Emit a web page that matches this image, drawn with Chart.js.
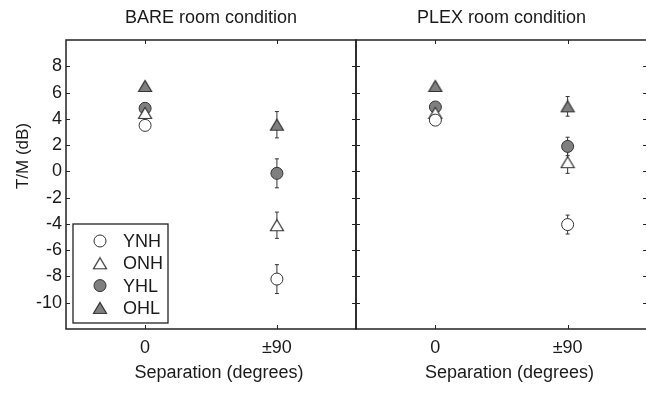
<!DOCTYPE html>
<html>
<head>
<meta charset="utf-8">
<script src="https://cdn.jsdelivr.net/npm/chart.js@4/dist/chart.umd.min.js"></script>
<style>
  html, body { margin: 0; padding: 0; background: #fff; }
  #wrap { position: relative; width: 646px; height: 396px; overflow: hidden; }
  #bare { position: absolute; left: 0; top: 0; }
  #plex { position: absolute; left: 355px; top: 0; }
</style>
</head>
<body>
<div id="wrap">
  <canvas id="bare" width="357" height="396"></canvas>
  <canvas id="plex" width="292" height="396"></canvas>
</div>
<script>
// categories on the x axis (placed at 1 and 2)
const categories = ['0', '\u00b190'];
const xPositions = [1, 2];
const yTicks = [-10, -8, -6, -4, -2, 0, 2, 4, 6, 8];
const groups = ['YNH', 'ONH', 'YHL', 'OHL'];

// BARE room condition: mean and error per separation
const bareYNH = [3.5, -8.2];
const bareYNHErr = [0.2, 1.1];
const bareONH = [4.45, -4.1];
const bareONHErr = [0.2, 1.0];
const bareYHL = [4.8, -0.15];
const bareYHLErr = [0.2, 1.1];
const bareOHL = [6.5, 3.55];
const bareOHLErr = [0.2, 1.0];

// PLEX room condition
const plexYNH = [3.9, -4.05];
const plexYNHErr = [0.2, 0.72];
const plexONH = [4.45, 0.7];
const plexONHErr = [0.2, 0.85];
const plexYHL = [4.9, 1.9];
const plexYHLErr = [0.2, 0.7];
const plexOHL = [6.5, 4.95];
const plexOHLErr = [0.2, 0.75];

const FONT = "'Liberation Sans', Arial, Helvetica, sans-serif";
const TEXT = '#1a1a1a';
const EDGE = '#333';
const GREY = '#7f7f7f';

function makeTriangle(fill) {
  const c = document.createElement('canvas');
  c.width = 16;
  c.height = 14;
  const g = c.getContext('2d');
  g.beginPath();
  g.moveTo(8, 1.5);
  g.lineTo(14.5, 12.5);
  g.lineTo(1.5, 12.5);
  g.closePath();
  g.fillStyle = fill;
  g.fill();
  g.strokeStyle = EDGE;
  g.lineWidth = 1.2;
  g.stroke();
  return c;
}

const styles = {
  YNH: { pointStyle: 'circle', backgroundColor: '#fff' },
  ONH: { pointStyle: makeTriangle('#fff'), backgroundColor: '#fff' },
  YHL: { pointStyle: 'circle', backgroundColor: GREY },
  OHL: { pointStyle: makeTriangle(GREY), backgroundColor: GREY }
};

function makeDataset(name, means, errs) {
  return {
    label: name,
    data: xPositions.map((x, i) => ({ x: x, y: means[i] })),
    errors: errs,
    pointStyle: styles[name].pointStyle,
    backgroundColor: styles[name].backgroundColor,
    borderColor: EDGE,
    borderWidth: 1,
    pointRadius: 6,
    pointHoverRadius: 6,
    showLine: false
  };
}

// error bars, drawn under the markers
const errorBars = {
  id: 'errorBars',
  beforeDatasetsDraw(chart) {
    const { ctx, scales: { x, y } } = chart;
    ctx.save();
    ctx.strokeStyle = EDGE;
    ctx.lineWidth = 1;
    chart.data.datasets.forEach(ds => {
      ds.data.forEach((p, i) => {
        const e = ds.errors[i];
        const px = x.getPixelForValue(p.x);
        const top = y.getPixelForValue(p.y + e);
        const bot = y.getPixelForValue(p.y - e);
        ctx.beginPath();
        ctx.moveTo(px, top); ctx.lineTo(px, bot);
        ctx.moveTo(px - 2, top); ctx.lineTo(px + 2, top);
        ctx.moveTo(px - 2, bot); ctx.lineTo(px + 2, bot);
        ctx.stroke();
      });
    });
    ctx.restore();
  }
};

// box round the plot with inward ticks on all sides
const frame = {
  id: 'frame',
  afterDatasetsDraw(chart) {
    const { ctx, chartArea: a, scales: { x, y } } = chart;
    ctx.save();
    ctx.strokeStyle = '#222';
    ctx.lineWidth = 1;
    ctx.beginPath();
    y.ticks.forEach(t => {
      const py = Math.round(y.getPixelForValue(t.value)) + 0.5;
      ctx.moveTo(a.left, py); ctx.lineTo(a.left + 4, py);
      ctx.moveTo(a.right, py); ctx.lineTo(a.right - 4, py);
    });
    x.ticks.forEach(t => {
      const px = Math.round(x.getPixelForValue(t.value)) + 0.5;
      ctx.moveTo(px, a.top); ctx.lineTo(px, a.top + 4);
      ctx.moveTo(px, a.bottom); ctx.lineTo(px, a.bottom - 4);
    });
    ctx.stroke();
    ctx.lineWidth = 1.5;
    ctx.strokeRect(a.left, a.top, a.right - a.left, a.bottom - a.top);
    ctx.restore();
  }
};

// axis titles
const axisLabels = {
  id: 'axisLabels',
  afterDraw(chart, args, opts) {
    const { ctx, chartArea: a } = chart;
    ctx.save();
    ctx.fillStyle = TEXT;
    ctx.font = '18px ' + FONT;
    ctx.textAlign = 'center';
    ctx.textBaseline = 'middle';
    ctx.fillText('Separation (degrees)', (a.left + a.right) / 2 + 8, a.bottom + 44);
    if (opts.yTitle) {
      ctx.font = '17px ' + FONT;
      ctx.translate(23, 156);
      ctx.rotate(-Math.PI / 2);
      ctx.fillText(opts.yTitle, 0, 0);
    }
    ctx.restore();
  }
};

// boxed legend in the lower left corner
const boxLegend = {
  id: 'boxLegend',
  afterDraw(chart, args, opts) {
    if (!opts.show) return;
    const { ctx, chartArea: a } = chart;
    const left = a.left + 7, top = a.bottom - 105, w = 95, h = 99;
    ctx.save();
    ctx.fillStyle = '#fff';
    ctx.fillRect(left, top, w, h);
    ctx.strokeStyle = '#222';
    ctx.lineWidth = 1.3;
    ctx.strokeRect(left, top, w, h);
    chart.data.datasets.forEach((ds, i) => {
      const cy = top + 17 + i * 22.3;
      ctx.fillStyle = ds.backgroundColor;
      ctx.strokeStyle = EDGE;
      ctx.lineWidth = 1;
      Chart.helpers.drawPoint(ctx, { pointStyle: ds.pointStyle, radius: 6, borderWidth: 1, rotation: 0 }, left + 27, cy);
      ctx.fillStyle = TEXT;
      ctx.font = '18px ' + FONT;
      ctx.textAlign = 'left';
      ctx.textBaseline = 'middle';
      ctx.fillText(ds.label, left + 50, cy + 1);
    });
    ctx.restore();
  }
};

function panel(canvasId, title, sets, showY) {
  return new Chart(document.getElementById(canvasId), {
    type: 'scatter',
    data: { datasets: sets },
    plugins: [errorBars, frame, axisLabels, boxLegend],
    options: {
      responsive: false,
      animation: false,
      events: [],
      layout: {
        autoPadding: false,
        padding: { left: showY ? 0 : 1, right: showY ? 1 : 0, top: 0, bottom: 0 }
      },
      plugins: {
        legend: { display: false },
        tooltip: { enabled: false },
        title: {
          display: true,
          text: title,
          fullSize: false,
          color: TEXT,
          font: { family: FONT, size: 18, weight: 'normal' },
          padding: { top: 7, bottom: 11.4 }
        },
        axisLabels: { yTitle: showY ? 'T/M (dB)' : '' },
        boxLegend: { show: showY }
      },
      scales: {
        x: {
          type: 'linear',
          min: 0.4,
          max: 2.6,
          grid: { display: false, drawTicks: false },
          border: { display: false },
          afterBuildTicks: s => { s.ticks = xPositions.map(v => ({ value: v })); },
          afterFit: s => { s.height = 67; s.paddingLeft = 0; s.paddingRight = 0; },
          ticks: {
            autoSkip: false,
            maxRotation: 0,
            padding: 8,
            color: TEXT,
            font: { family: FONT, size: 18 },
            callback: v => categories[xPositions.indexOf(v)]
          }
        },
        y: {
          display: showY,
          min: -12,
          max: 10,
          grid: { display: false, drawTicks: false },
          border: { display: false },
          afterBuildTicks: s => { s.ticks = yTicks.map(v => ({ value: v })); },
          afterFit: s => { s.width = showY ? 66 : 0; s.paddingTop = 0; s.paddingBottom = 0; },
          ticks: {
            padding: 4,
            color: TEXT,
            font: { family: FONT, size: 18 },
            callback: v => String(v)
          }
        }
      }
    }
  });
}

panel('bare', 'BARE room condition', [
  makeDataset('YNH', bareYNH, bareYNHErr),
  makeDataset('ONH', bareONH, bareONHErr),
  makeDataset('YHL', bareYHL, bareYHLErr),
  makeDataset('OHL', bareOHL, bareOHLErr)
], true);

panel('plex', 'PLEX room condition', [
  makeDataset('YNH', plexYNH, plexYNHErr),
  makeDataset('ONH', plexONH, plexONHErr),
  makeDataset('YHL', plexYHL, plexYHLErr),
  makeDataset('OHL', plexOHL, plexOHLErr)
], false);
</script>
</body>
</html>
